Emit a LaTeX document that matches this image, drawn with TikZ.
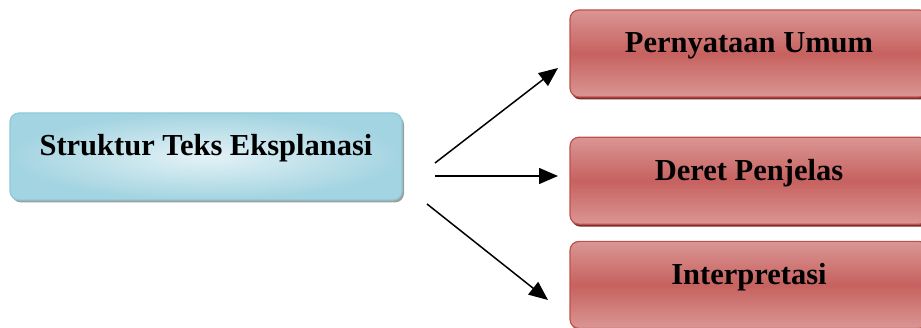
\documentclass[tikz,border=0pt]{standalone}
\usepackage{fontspec}
\setmainfont{Liberation Serif}
\usetikzlibrary{positioning,shadows,arrows.meta}
\definecolor{redline}{HTML}{C0504D}
\definecolor{redlight}{HTML}{DA9694}
\definecolor{redshadow}{HTML}{7E2C2A}
\definecolor{blueline}{HTML}{8CCADA}
\definecolor{bluedark}{HTML}{A3D4E1}
\definecolor{bluelight}{HTML}{E4F2F6}
\begin{document}
\begin{tikzpicture}[x=1pt, y=1pt,
    box/.style={rectangle, rounded corners=9pt, line width=1.2pt,
        inner xsep=0pt, inner ysep=0pt, text height=43pt, text depth=44pt,
        font=\fontsize{30.5}{36}\selectfont\bfseries},
    redbox/.style={box, draw=redline, minimum width=358pt,
        top color=redlight, bottom color=redlight, middle color=redline!90!white,
        drop shadow={shadow xshift=1.5pt, shadow yshift=-2.5pt, fill=redshadow, opacity=1}},
    bluebox/.style={box, draw=blueline, minimum width=392pt,
        shading=radial, outer color=bluedark, inner color=bluelight,
        drop shadow={shadow xshift=2pt, shadow yshift=-2.5pt, fill=gray!75, opacity=1}},
    arrow/.style={-{Triangle[length=19pt, width=16pt]}, line width=1.5pt}]
    \useasboundingbox (0,0) rectangle (921,-328);

    \node (struktur) [bluebox] at (206,-156.5) {Struktur Teks Eksplanasi};
    \node (umum) [redbox] at (749,-53.5) {Pernyataan Umum};
    \node (deret) [redbox, below=39pt of umum] {Deret Penjelas};
    \node (interp) [redbox, below=16pt of deret] {Interpretasi};

    \coordinate (s1) at (435,-163);
    \coordinate (s2) at (435,-176);
    \coordinate (s3) at (427,-204);
    \coordinate (e1) at (558,-68);
    \coordinate (e2) at (558,-176);
    \coordinate (e3) at (548,-300);

    \draw[arrow] (s1) -- (e1);
    \draw[arrow] (s2) -- (e2);
    \draw[arrow] (s3) -- (e3);
\end{tikzpicture}
\end{document}
